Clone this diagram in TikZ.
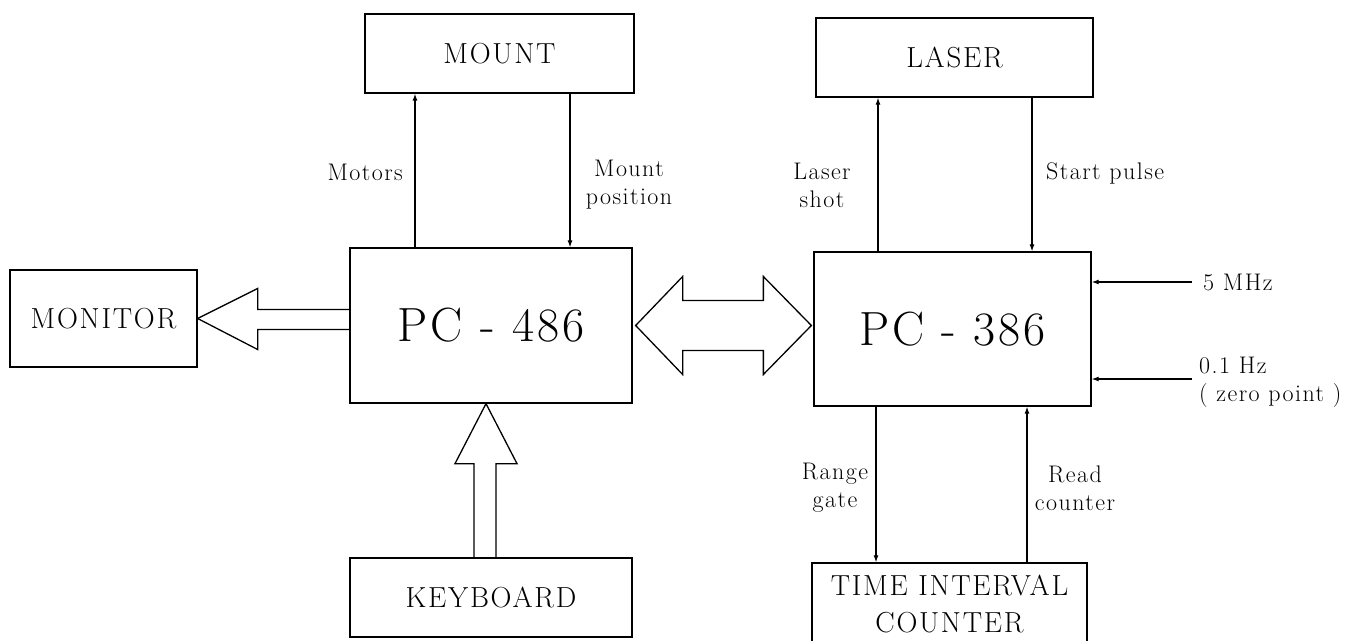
\documentclass[tikz,border=0pt]{standalone}
\usepackage{fontspec}
\setmainfont{Latin Modern Roman}[LetterSpace=6]
\usetikzlibrary{arrows.meta,calc}
\newcommand\boxfont{\fontsize{29}{37}\selectfont}
\newcommand\lblfont{\fontsize{24}{28}\selectfont}
\newcommand\pcfont{\fontsize{48}{58}\selectfont}
\tikzset{
  box/.style={draw, line width=1.3pt, inner sep=0pt, align=center, font=\boxfont},
  pcbox/.style={draw, line width=1.3pt, inner sep=0pt, font=\pcfont},
  sig/.style={line width=1.1pt, -{Latex[length=7pt,width=5pt]}},
  big/.style={line width=1.3pt, line join=miter},
  lbl/.style={font=\lblfont, align=center, inner sep=0pt},
}
\begin{document}
\begin{tikzpicture}[x=1pt,y=-1pt]
\useasboundingbox (0,0) rectangle (1364,640);
% boxes
\node[box, minimum width=269pt, minimum height=79pt] (mount) at (499.5,53.5) {MOUNT};
\node[box, minimum width=277pt, minimum height=79pt] (laser) at (954.5,57.5) {LASER};
\node[pcbox, minimum width=282pt, minimum height=155pt] (pc486) at (491,325.5) {PC - 486};
\node[pcbox, minimum width=277pt, minimum height=154pt] (pc386) at (952.5,329) {PC - 386};
\node[box, minimum width=187pt, minimum height=97pt] (monitor) at (103.5,318.5) {MONITOR};
\node[box, minimum width=282pt, minimum height=79pt] (keyboard) at (491,597.5) {KEYBOARD};
\node[box, minimum width=275pt, minimum height=82pt] (tic) at (949.5,604) {TIME INTERVAL\\COUNTER};
% labels
\node[lbl, anchor=east] (lmot) at (403,172) {Motors};
\node[lbl] (lmpos) at (629,185) {Mount\\position};
\node[lbl] (lls) at (822,185) {Laser\\shot};
\node[lbl, anchor=west] (lsp) at (1046,173) {Start pulse};
\node[lbl] (lrg) at (835,488) {Range\\gate};
\node[lbl] (lrc) at (1075,488) {Read\\counter};
\node[lbl, anchor=west] (l5) at (1203,282) {5 MHz};
\node[lbl, anchor=west, align=left] (l01) at (1199,382) {0.1 Hz\\( zero point )};
% signal arrows
\draw[sig] ([xshift=-76pt]pc486.north) -- ([xshift=-76pt]pc486.north |- mount.south);
\draw[sig] ([xshift=79pt]pc486.north |- mount.south) -- ([xshift=79pt]pc486.north);
\draw[sig] ([xshift=-74.5pt]pc386.north) -- ([xshift=-74.5pt]pc386.north |- laser.south);
\draw[sig] ([xshift=79.5pt]pc386.north |- laser.south) -- ([xshift=79.5pt]pc386.north);
\draw[sig] ([xshift=-76.5pt]pc386.south) -- ([xshift=-76.5pt]pc386.south |- tic.north);
\draw[sig] ([xshift=74.5pt]pc386.south |- tic.north) -- ([xshift=74.5pt]pc386.south);
\coordinate (c5) at (1192,282);
\coordinate (c01) at (1192,379);
\draw[sig] (c5) -- (c5 -| pc386.east);
\draw[sig] (c01) -- (c01 -| pc386.east);
% monitor big arrow
\draw[big] (monitor.east) -- ++(60,-30) -- ++(0,21) coordinate (ma) -- (ma -| pc486.west);
\draw[big] (monitor.east) -- ++(60,31) -- ++(0,-20) coordinate (mb) -- (mb -| pc486.west);
% keyboard big arrow
\coordinate (kt) at ([xshift=-5pt]pc486.south);
\draw[big] (kt) -- ++(-31,60) -- ++(19,0) coordinate (k1) -- (k1 |- keyboard.north);
\draw[big] (kt) -- ++(31,60) -- ++(-21,0) coordinate (k2) -- (k2 |- keyboard.north);
% double arrow
\coordinate (dl) at ([xshift=3pt]pc486.east);
\coordinate (dr) at ([xshift=-2pt]pc386.west |- dl);
\draw[big] (dl) -- ++(47,-49) -- ++(0,24) -- ($(dr)+(-48,-25)$) -- ++(0,-24) -- (dr)
  -- ++(-48,49) -- ++(0,-24) -- ($(dl)+(47,25)$) -- ++(0,24) -- cycle;
\end{tikzpicture}
\end{document}
